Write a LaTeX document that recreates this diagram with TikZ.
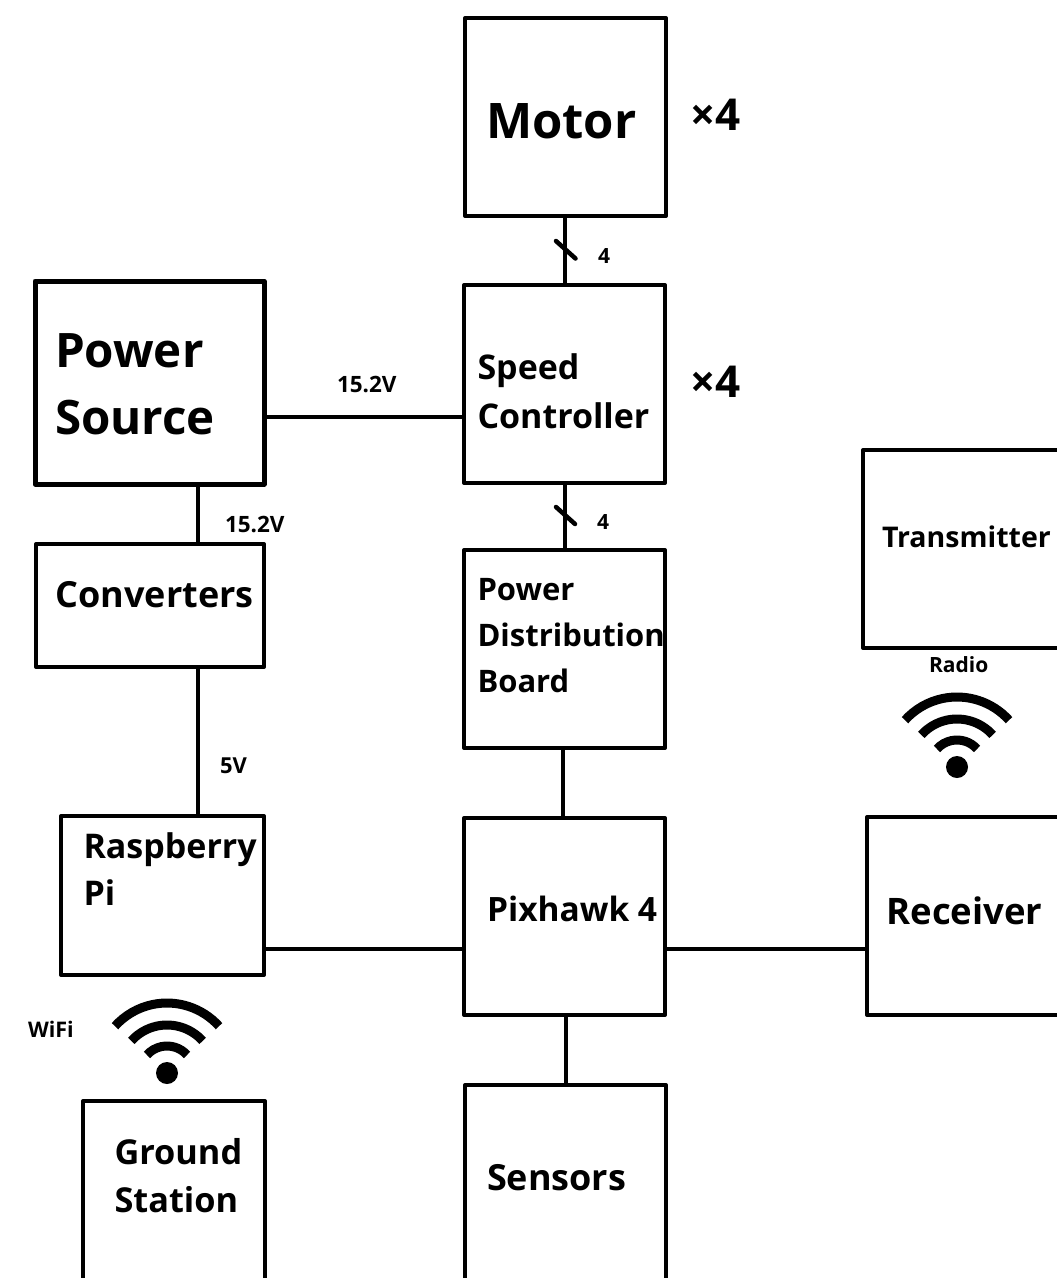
\documentclass[tikz,border=0pt]{standalone}
\usepackage{fontspec}
\setmainfont{Open Sans}
\newcommand\fsz[2]{\fontsize{#1}{#2}\selectfont}
\tikzset{
  blockbox/.style={draw=black,line width=4pt,rectangle,inner sep=0pt,outer sep=0pt,line join=round,fill=none},
  lab/.style 2 args={anchor=base west,inner sep=0pt,outer sep=0pt,align=left,text=black,font=\bfseries\fsz{#1}{#2}},
  wire/.style={draw=black,line width=4pt},
  tickmark/.style={draw=black,line width=4.5pt,line cap=round},
  wifipic/.pic={
    \begin{scope}[x=1pt,y=1pt]
      \draw[line width=9pt] (42:70) arc[start angle=42,end angle=138,radius=70pt];
      \draw[line width=9pt] (42:48) arc[start angle=42,end angle=138,radius=48pt];
      \draw[line width=9pt] (42:27) arc[start angle=42,end angle=138,radius=27pt];
      \fill (0,0) circle (11pt);
    \end{scope}
  }
}
\begin{document}
\begin{tikzpicture}[x=1pt,y=-1pt]
\useasboundingbox (0,0) rectangle (1057,1278);
\clip (0,0) rectangle (1057,1278);
\fill[white] (0,0) rectangle (1057,1278);
% boxes
\node[blockbox,minimum width=201pt,minimum height=198pt] (motor) at (565.5,117) {};
\node[blockbox,minimum width=201pt,minimum height=198pt] (speed) at (564.5,384) {};
\node[blockbox,line width=5pt,minimum width=229pt,minimum height=203pt] (power) at (149.5,382.5) {};
\node[blockbox,minimum width=228pt,minimum height=123pt] (conv) at (150,605.5) {};
\node[blockbox,minimum width=201pt,minimum height=198pt] (pdb) at (564.5,649) {};
\node[blockbox,minimum width=203pt,minimum height=159pt] (rpi) at (162.5,895.5) {};
\node[blockbox,minimum width=201pt,minimum height=197pt] (pix) at (564.5,916.5) {};
\node[blockbox,minimum width=201pt,minimum height=205pt] (sensors) at (565.5,1187.5) {};
\node[blockbox,minimum width=182pt,minimum height=189pt] (ground) at (174,1195.5) {};
\node[blockbox,minimum width=204pt,minimum height=198pt] (trans) at (965,549) {};
\node[blockbox,minimum width=200pt,minimum height=198pt] (recv) at (967,916) {};
% connectors
\draw[wire] ([xshift=-0.5pt]motor.south) -- ([xshift=0.5pt]speed.north);
\draw[wire] ([yshift=-34.5pt]power.east) -- ([yshift=-33pt]speed.west);
\draw[wire] ([xshift=48.5pt]power.south) -- ([xshift=48pt]conv.north);
\draw[wire] ([xshift=48pt]conv.south) -- ([xshift=35.5pt]rpi.north);
\draw[wire] (speed.south) -- (pdb.north);
\draw[wire] ([xshift=-1.5pt]pdb.south) -- ([xshift=-1.5pt]pix.north);
\draw[wire] ([yshift=-53.5pt]rpi.east) -- ([yshift=-32.5pt]pix.west);
\draw[wire] ([yshift=-32.5pt]pix.east) -- ([yshift=-33pt]recv.west);
\draw[wire] ([xshift=1.5pt]pix.south) -- ([xshift=0.5pt]sensors.north);
% tick marks
\coordinate (t1a) at (556,241); \coordinate (t1b) at (575.5,258.5);
\coordinate (t2a) at (556,507); \coordinate (t2b) at (575,524);
\draw[tickmark] (t1a) -- (t1b);
\draw[tickmark] (t2a) -- (t2b);
% wifi icons
\pic at (167,1073) {wifipic};
\pic at (957,767) {wifipic};
% labels (anchored on the baseline of the last line)
\node[lab={49}{60}] (tmotor) at (486,138) {Motor};
\node[lab={44}{52}] (tx1) at (690,130) {×4};
\node[lab={44}{52}] (tx2) at (690,397) {×4};
\node[lab={21}{25}] (tfour1) at (598,263) {4};
\node[lab={21}{25}] (tfour2) at (597,529) {4};
\node[lab={47.5}{67}] (tpower) at (55,434) {Power\\Source};
\node[lab={22.5}{26}] (tv1) at (337,392) {15.2V};
\node[lab={22.5}{26}] (tv2) at (225,532) {15.2V};
\node[lab={36}{44}] (tconv) at (55.5,607) {Converters};
\node[lab={22}{26}] (tv3) at (220,773) {5V};
\node[lab={34}{49}] (tspeed) at (477.5,428) {Speed\\Controller};
\node[lab={31}{46}] (tpdb) at (477.5,692) {Power\\Distribution\\Board};
\node[lab={28.5}{34}] (ttrans) at (882,547) {Transmitter};
\node[lab={21}{25}] (tradio) at (929,672) {Radio};
\node[lab={34}{47}] (trpi) at (83.5,905) {Raspberry\\Pi};
\node[lab={33.5}{40}] (tpix) at (487,921) {Pixhawk 4};
\node[lab={36.5}{44}] (trecv) at (886.5,924) {Receiver};
\node[lab={21.5}{25}] (twifi) at (28,1037) {WiFi};
\node[lab={34.3}{48}] (tground) at (114.5,1212) {Ground\\Station};
\node[lab={36}{44}] (tsens) at (487,1190) {Sensors};
\end{tikzpicture}
\end{document}
